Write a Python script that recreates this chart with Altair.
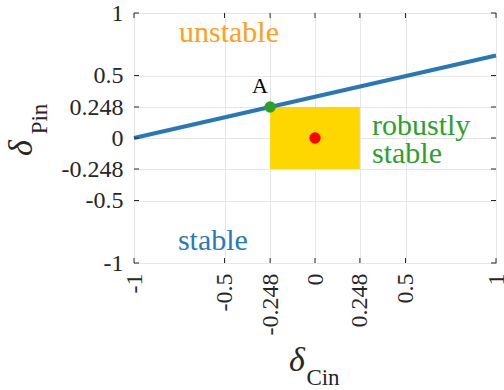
import altair as alt
import pandas as pd

# ---- data ----
tick_values = [-1, -0.5, -0.248, 0, 0.248, 0.5, 1]
line_x = [-1, 1]
line_y = [0, 0.66]
box_x = [-0.248, 0.248]
box_y = [-0.248, 0.248]
point_a_x = [-0.248]
point_a_y = [0.248]
nominal_x = [0]
nominal_y = [0]
label_text = ["unstable", "stable", "robustly", "stable", "A"]
label_x = [-0.475, -0.564, 0.315, 0.315, -0.304]
label_y = [0.768, -0.896, 0.024, -0.2, 0.36]
label_color = ["#ffa01c", "#2a7ab8", "#2ca02c", "#2ca02c", "#000000"]
label_size = [30, 30, 30, 30, 22]
label_align = ["center", "center", "left", "left", "center"]

W, H = 362, 250
FONT = "Liberation Serif"

xs = alt.Scale(domain=[-1, 1], nice=False, zero=False)
ys = alt.Scale(domain=[-1, 1], nice=False, zero=False)

line_df = pd.DataFrame({"x": line_x, "y": line_y})
box_df = pd.DataFrame({"x": [box_x[0]], "x2": [box_x[1]], "y": [box_y[0]], "y2": [box_y[1]]})
a_df = pd.DataFrame({"x": point_a_x, "y": point_a_y})
o_df = pd.DataFrame({"x": nominal_x, "y": nominal_y})
lab_df = pd.DataFrame({"t": label_text, "x": label_x, "y": label_y, "c": label_color,
                       "s": label_size, "a": label_align})
tick_df = pd.DataFrame({"v": tick_values})
one = pd.DataFrame({"k": [0]})

x_axis = alt.Axis(values=tick_values, labelExpr="toString(datum.value)", labelAngle=270,
                  labelFont=FONT, labelFontSize=24, labelColor="#262626", labelPadding=10,
                  tickSize=0, domain=False, grid=True, gridColor="#e6e6e6", title=None,
                  labelOverlap=False, labelFlush=False, labelBound=False)
y_axis = alt.Axis(values=tick_values, labelExpr="toString(datum.value)",
                  labelFont=FONT, labelFontSize=24, labelColor="#262626", labelPadding=11,
                  tickSize=0, domain=False, grid=True, gridColor="#e6e6e6", title=None,
                  labelOverlap=False, labelFlush=False, labelBound=False)

rect = alt.Chart(box_df).mark_rect(color="#ffd700").encode(
    x=alt.X("x:Q", scale=xs, axis=x_axis), x2="x2:Q",
    y=alt.Y("y:Q", scale=ys, axis=y_axis), y2="y2:Q")

line = alt.Chart(line_df).mark_line(color="#2878b5", strokeWidth=4).encode(
    x=alt.X("x:Q", scale=xs), y=alt.Y("y:Q", scale=ys))

pa = alt.Chart(a_df).mark_circle(color="#2ca02c", size=130, opacity=1).encode(
    x=alt.X("x:Q", scale=xs), y=alt.Y("y:Q", scale=ys))
po = alt.Chart(o_df).mark_circle(color="#ff0000", size=130, opacity=1).encode(
    x=alt.X("x:Q", scale=xs), y=alt.Y("y:Q", scale=ys))

labels = []
for al in ["center", "left"]:
    sub = lab_df[lab_df["a"] == al]
    labels.append(alt.Chart(sub).mark_text(font=FONT, align=al, baseline="alphabetic").encode(
        x=alt.X("x:Q", scale=xs), y=alt.Y("y:Q", scale=ys), text="t:N",
        color=alt.Color("c:N", scale=None), size=alt.Size("s:Q", scale=None)))

TL = 5
tick_col = "#262626"
t_left = alt.Chart(tick_df).mark_rule(color=tick_col, strokeWidth=1).encode(
    y=alt.Y("v:Q", scale=ys), x=alt.value(0), x2=alt.value(TL))
t_right = alt.Chart(tick_df).mark_rule(color=tick_col, strokeWidth=1).encode(
    y=alt.Y("v:Q", scale=ys), x=alt.value(W - TL), x2=alt.value(W))
t_bot = alt.Chart(tick_df).mark_rule(color=tick_col, strokeWidth=1).encode(
    x=alt.X("v:Q", scale=xs), y=alt.value(H), y2=alt.value(H - TL))
t_top = alt.Chart(tick_df).mark_rule(color=tick_col, strokeWidth=1).encode(
    x=alt.X("v:Q", scale=xs), y=alt.value(0), y2=alt.value(TL))

# axis titles (delta with subscript)
xd = alt.Chart(one).mark_text(text="δ", font=FONT, fontSize=34, fontStyle="italic",
                              align="center", baseline="alphabetic", color="#262626").encode(
    x=alt.value(163), y=alt.value(358))
xs_t = alt.Chart(one).mark_text(text="Cin", font=FONT, fontSize=23,
                                align="center", baseline="alphabetic", color="#262626").encode(
    x=alt.value(189), y=alt.value(372))
yd = alt.Chart(one).mark_text(text="δ", font=FONT, fontSize=34, fontStyle="italic", angle=270,
                              align="center", baseline="alphabetic", color="#262626").encode(
    x=alt.value(-102), y=alt.value(135))
ys_t = alt.Chart(one).mark_text(text="Pin", font=FONT, fontSize=23, angle=270,
                                align="center", baseline="alphabetic", color="#262626").encode(
    x=alt.value(-87), y=alt.value(106))

chart = alt.layer(rect, line, pa, po, *labels, t_left, t_right, t_bot, t_top,
                  xd, xs_t, yd, ys_t).properties(
    width=W, height=H,
    autosize=alt.AutoSizeParams(type="none"),
    padding={"left": 134, "top": 13, "right": 8, "bottom": 127},
    background="white",
).configure_view(stroke="#262626", strokeWidth=1)

chart.save("out.html", embed_options={"renderer": "svg", "actions": False})
